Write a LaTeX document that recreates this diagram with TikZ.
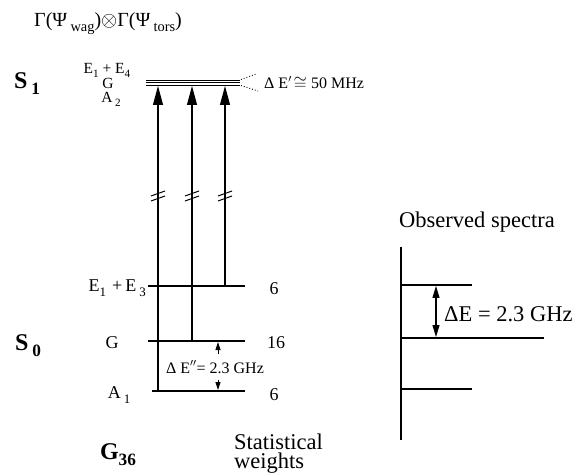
\documentclass[tikz,border=0pt]{standalone}
\usepackage{fontspec}
\setmainfont{Liberation Serif}
\usepackage{graphicx}
\usepackage{tikz}
\usetikzlibrary{arrows.meta,positioning}
\newcommand{\lowsub}[1]{\raisebox{-0.55ex}{\scalebox{0.72}{#1}}}

\begin{document}
\begin{tikzpicture}[x=1pt, y=-1pt,
  every node/.style={inner sep=0pt, font=\fontsize{18}{20}\selectfont},
  sym/.style={font=\fontsize{18}{20}\selectfont},
  tight/.style={font=\fontsize{15.5}{17}\selectfont, anchor=base},
  big/.style={font=\fontsize{22.5}{19}\selectfont},
  small/.style={font=\fontsize{16}{18}\selectfont},
  state/.style={font=\fontsize{24}{26}\selectfont\bfseries},
  level/.style={line width=1.1pt},
  trans/.style={line width=1.1pt, -{Triangle[length=19pt,width=10pt]}},
  gap/.style={line width=0.8pt, -{Triangle[length=8pt,width=5pt]}},
  split/.style={{Triangle[length=12pt,width=7pt]}-{Triangle[length=12pt,width=7pt]}, line width=1.1pt}
]
\useasboundingbox (0,0) rectangle (576,473);

\node[anchor=west, font=\fontsize{20}{22}\selectfont] (title) at (34,24) {Γ(Ψ\,\lowsub{wag})$\otimes$Γ(Ψ\,\lowsub{tors})};

% upper state
\node[state] (S1) at (27,84) {S\,\lowsub{1}};
\node[tight] (E14) at (107,74) {E\lowsub{1} + E\lowsub{4}};
\node[tight] (G1) at (108,89) {G};
\node[tight] (A2) at (111,103) {A\,\lowsub{2}};
\foreach \ly in {80,82.5,85}
  \draw[line width=0.9pt] (146,\ly) -- (240,\ly);
\coordinate (fan) at (241,82.5);
\draw[dotted, line width=0.9pt] (fan) ++(0,-3) -- (256,74);
\draw[dotted, line width=0.9pt] (fan) ++(0,3) -- (258,91);
\node[small, anchor=west] (dEp) at (264,83) {Δ E$'\!\cong$ 50 MHz};

% lower state
\coordinate (E3w) at (148,286); \coordinate (E3e) at (245,286);
\coordinate (G0w) at (148,341); \coordinate (G0e) at (245,341);
\coordinate (A1w) at (152,391); \coordinate (A1e) at (245,391);
\draw[level] (E3w) -- (E3e);
\draw[level] (G0w) -- (G0e);
\draw[level] (A1w) -- (A1e);
\node[sym, anchor=east] (E13) at (146,288) {E\lowsub{1}\,\,+\,E\,\lowsub{3}};
\node[sym] (G0) at (112,343) {G};
\node[sym] (A1) at (119,395) {A\,\lowsub{1}};
\node[state] (S0) at (28,346) {S\,\lowsub{0}};
\node[sym] (w1) at (274,289) {6};
\node[sym] (w2) at (276,343) {16};
\node[sym] (w3) at (274,395) {6};

% transitions
\foreach \ax/\ay [count=\i] in {158/391,192/341,225/286} {
  \coordinate (lo\i) at (\ax,\ay);
  \coordinate (hi\i) at (\ax,86);
  \draw[trans] (lo\i) -- (hi\i);
  \draw[line width=1pt] ({\ax-7},196) -- ({\ax+7},191) ({\ax-7},201) -- ({\ax+7},196);
}

% ground splitting
\coordinate (ga) at (218,354); \coordinate (gb) at (218,380);
\draw[gap] (ga) -- (218,342);
\draw[gap] (gb) -- (218,390);
\node[small] (dEpp) at (215,367) {Δ E$''$= 2.3 GHz};

\node[state] (G36) at (118,455) {G\lowsub{36}};
\node[big, anchor=base west, align=left] (stat) at (234,468) {Statistical\\weights};

% spectrum
\node[big, anchor=west] (obs) at (399,222) {Observed spectra};
\coordinate (vtop) at (401,247); \coordinate (vbot) at (401,440);
\draw[level] (vtop) -- (vbot);
\draw[level] (401,285) -- (472,285);
\draw[level] (401,338) -- (544,338);
\draw[level] (401,389) -- (472,389);
\draw[split] (436,286) -- (436,337);
\node[big, anchor=west] (dE) at (444,314) {ΔE = 2.3 GHz};
\end{tikzpicture}
\end{document}
